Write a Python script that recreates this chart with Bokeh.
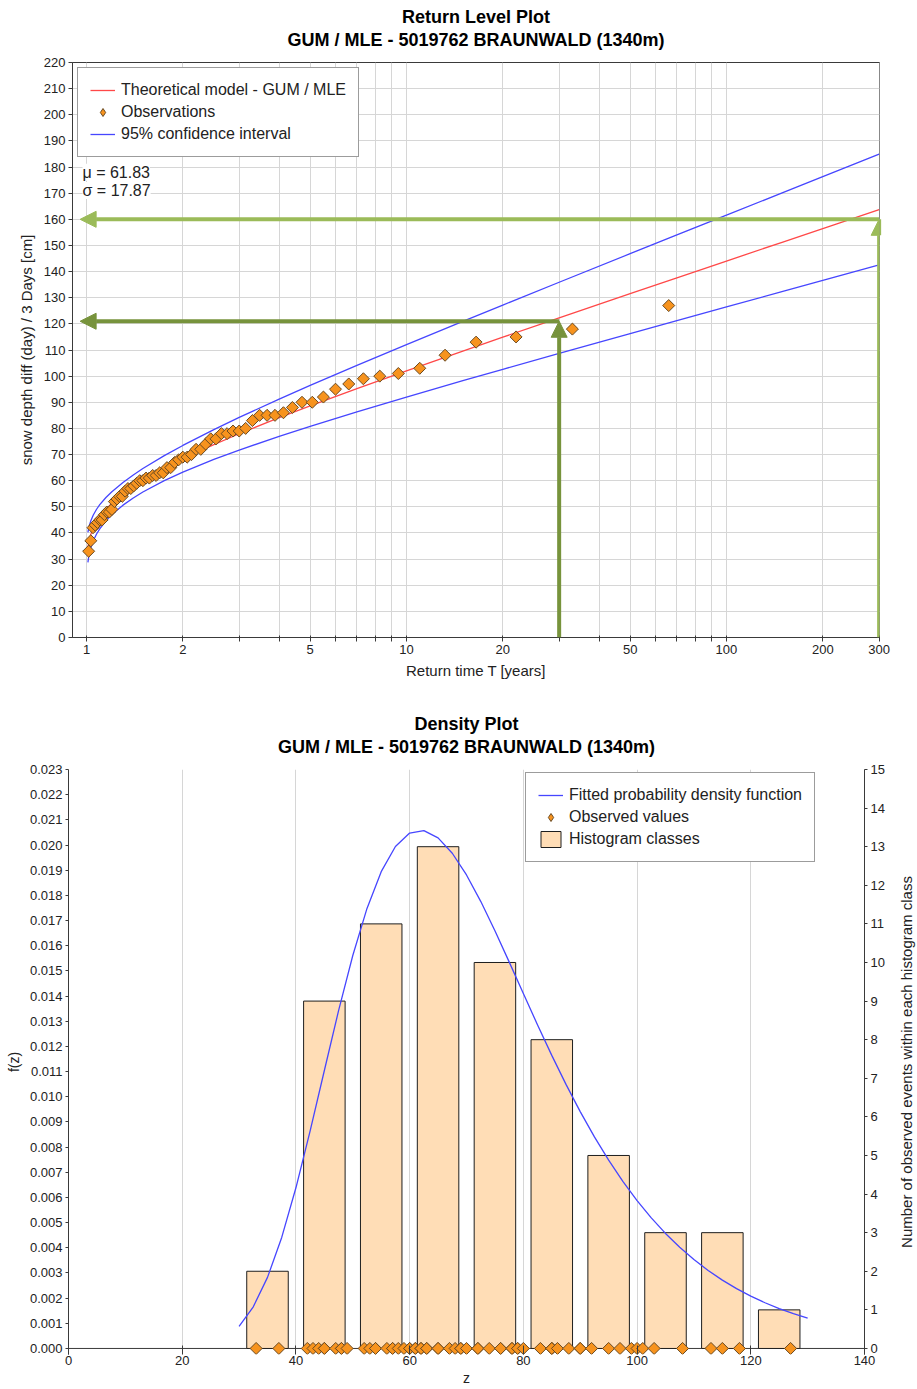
import math
from bokeh.plotting import figure
from bokeh.models import (Range1d, FixedTicker, LinearAxis, Legend, LegendItem, Label,
                          Arrow, NormalHead, Span, Title, CustomJSTickFormatter,
                          NumeralTickFormatter)
from bokeh.layouts import column, row
from bokeh.embed import file_html
from bokeh.resources import INLINE

FONT = "Liberation Sans"
NAN = float("nan")

# ---------------- data ----------------
title_top = "Return Level Plot"
title_bottom = "Density Plot"
subtitle = "GUM / MLE - 5019762 BRAUNWALD (1340m)"
mu_text = "\u03bc = 61.83"
sigma_text = "\u03c3 = 17.87"
right_axis_title = "Number of observed events within each histogram class"

# observed values (cm), 65 events
obs_values = [33, 37, 42, 43, 44, 45, 45, 47, 48, 48, 49, 52, 53, 54, 54, 56, 57, 57,
              58, 59, 60, 60, 61, 61, 62, 62, 63, 63, 65, 65, 67, 68, 69, 69, 70, 72,
              72, 74, 76, 76, 78, 78, 79, 79, 80, 83, 85, 85, 85, 86, 88, 90, 90, 92,
              95, 97, 99, 100, 101, 103, 108, 113, 115, 118, 127]

# theoretical model and 95% confidence band (read along return time T)
T_model = [1.01, 1.015, 1.02, 1.03, 1.05, 1.075, 1.1, 1.15, 1.2, 1.3, 1.4, 1.5, 1.75,
           2, 2.5, 3, 4, 5, 7, 10, 15, 20, 30, 50, 70, 100, 150, 200, 300]
model_level = [34.50, 36.12, 37.37, 39.26, 41.94, 44.33, 46.20, 49.12, 51.41, 54.99,
               57.80, 60.15, 64.79, 68.38, 73.83, 77.96, 84.09, 88.63, 95.24, 102.05,
               109.61, 114.91, 122.31, 131.56, 137.62, 144.03, 151.31, 156.47, 163.73]
ci_lower = [28.76, 30.58, 31.97, 34.07, 37.00, 39.59, 41.59, 44.67, 47.03, 50.64,
            53.40, 55.66, 60.01, 63.28, 68.12, 71.71, 76.96, 80.80, 86.34, 92.01,
            98.26, 102.62, 108.70, 116.28, 121.23, 126.47, 132.41, 136.62, 142.53]
ci_upper = [40.24, 41.66, 42.77, 44.45, 46.88, 49.07, 50.81, 53.57, 55.79, 59.34,
            62.20, 64.64, 69.57, 73.48, 79.54, 84.21, 91.22, 96.46, 104.14, 112.09,
            120.96, 127.20, 135.92, 146.84, 154.01, 161.59, 170.21, 176.32, 184.93]

# reading arrows (return period, level)
read_T = [30, 300]
read_level = [121, 160]

x_ticks_top = [1, 2, 3, 4, 5, 6, 7, 8, 9, 10, 20, 30, 40, 50, 60, 70, 80, 90, 100, 200, 300]
x_labels_top = [1, 2, 5, 10, 20, 50, 100, 200, 300]
y_ticks_top = list(range(0, 221, 10))

# density plot
z_pdf = [30, 32.5, 35, 37.5, 40, 42.5, 45, 47.5, 50, 52.5, 55, 57.5, 60, 62.5, 65, 67.5,
         70, 72.5, 75, 77.5, 80, 82.5, 85, 87.5, 90, 92.5, 95, 97.5, 100, 102.5, 105,
         107.5, 110, 112.5, 115, 117.5, 120, 122.5, 125, 127.5, 130]
pdf_values = [0.000877, 0.001656, 0.002823, 0.004411, 0.006383, 0.008644, 0.011043,
              0.013420, 0.015611, 0.017481, 0.018941, 0.019940, 0.020475, 0.020572,
              0.020283, 0.019673, 0.018810, 0.017763, 0.016595, 0.015358, 0.014099,
              0.012851, 0.011643, 0.010490, 0.009409, 0.008404, 0.007481, 0.006638,
              0.005874, 0.005186, 0.004570, 0.004020, 0.003531, 0.003097, 0.002714,
              0.002375, 0.002077, 0.001815, 0.001585, 0.001383, 0.001207]
class_centers = [35, 45, 55, 65, 75, 85, 95, 105, 115, 125]
class_counts = [2, 9, 11, 13, 10, 8, 5, 3, 3, 1]
x_ticks_bottom = [0, 20, 40, 60, 80, 100, 120, 140]
y_ticks_bottom = [round(i * 0.001, 3) for i in range(24)]
count_ticks = list(range(16))

# ---------------- style ----------------
RED = "#FF4848"
BLUE = "#4646FF"
ORANGE = "#F7931E"
ORANGE_LINE = "#6A4A22"
BAR_FILL = "#FFDDB6"
G_DARK = "#77933C"
G_LIGHT = "#9BBB59"
GRID = "#D6D6D6"
AXIS = "#3A3A3A"
TXT = "#222222"

n = len(obs_values)
sorted_obs = sorted(obs_values)
T_obs = [(n + 1) / (n + 1 - i) for i in range(1, n + 1)]


def style_axis(ax, tick_out=4, tick_in=0, standoff=3, label_standoff=5, label_size="15px"):
    ax.axis_line_color = AXIS
    ax.major_tick_line_color = AXIS
    ax.minor_tick_line_color = None
    ax.major_tick_out = tick_out
    ax.major_tick_in = tick_in
    ax.major_label_standoff = standoff
    ax.major_label_text_font = FONT
    ax.major_label_text_font_size = "13px"
    ax.major_label_text_color = TXT
    ax.axis_label_text_font = FONT
    ax.axis_label_text_font_size = label_size
    ax.axis_label_text_font_style = "normal"
    ax.axis_label_text_color = TXT
    ax.axis_label_standoff = label_standoff


def label_only_axis(text, standoff, size, bold=False):
    # an axis without line / ticks / tick labels, used only to carry a text line
    return LinearAxis(ticker=FixedTicker(ticks=[]), axis_label=text,
                      axis_line_color=None, major_tick_line_color=None,
                      minor_tick_line_color=None, major_tick_out=0, major_tick_in=0,
                      major_label_standoff=0, axis_label_standoff=standoff,
                      axis_label_text_font=FONT, axis_label_text_font_size=size,
                      axis_label_text_font_style="bold" if bold else "normal",
                      axis_label_text_color="black" if bold else TXT)


def add_titles(p, line1, line2):
    p.add_layout(label_only_axis(line2, 13, "18px", bold=True), "above")
    p.add_layout(Title(text=line1, align="center", standoff=0, text_font=FONT,
                       text_font_size="18px", text_font_style="bold",
                       text_color="black"), "above")


def no_frame_align(p):
    if "frame_align" in p.properties():
        p.frame_align = False


# ================= Return level plot =================
# frame: x 72..879, y 62..637 (page px)
p1 = figure(width=917, height=684, x_axis_type="log",
            x_range=Range1d(0.904, 300.8), y_range=Range1d(0, 220),
            output_backend="svg", toolbar_location=None, title=None,
            min_border_left=72, min_border_right=38, min_border_top=62, min_border_bottom=47)
no_frame_align(p1)
p1.outline_line_color = AXIS
xa1 = p1.below[0]
ya1 = p1.left[0]

xt = FixedTicker(ticks=x_ticks_top)
yt = FixedTicker(ticks=y_ticks_top)
xa1.ticker = xt
ya1.ticker = yt
p1.xgrid[0].ticker = xt
p1.ygrid[0].ticker = yt
xa1.formatter = CustomJSTickFormatter(
    args=dict(shown=x_labels_top),
    code="return shown.includes(tick) ? String(tick) : '';")
style_axis(xa1, tick_out=4, tick_in=2, standoff=3, label_standoff=5)
style_axis(ya1, tick_out=4, standoff=3, label_standoff=6)
xa1.axis_label = "Return time T [years]"
ya1.axis_label = "snow depth diff (day) / 3 Days [cm]"
for g in (p1.xgrid[0], p1.ygrid[0]):
    g.grid_line_color = GRID
    g.grid_line_width = 1
add_titles(p1, title_top, subtitle)

r_model = p1.line(T_model, model_level, line_color=RED, line_width=1.3)
r_up = p1.line(T_model, ci_upper, line_color=BLUE, line_width=1.3)
r_lo = p1.line(T_model, ci_lower, line_color=BLUE, line_width=1.3)
r_obs = p1.scatter(T_obs, sorted_obs, marker="square", angle=math.pi / 4, size=8.5,
                   fill_color=ORANGE, line_color=ORANGE_LINE, line_width=1)
# legend-only glyph (diamond shape for the legend entry, never drawn in the plot)
r_obs_leg = p1.scatter([NAN], [NAN], marker="diamond", size=12,
                       fill_color=ORANGE, line_color=ORANGE_LINE, line_width=1)

# reading arrows
for (tr, lv, col) in zip(read_T, read_level, [G_DARK, G_LIGHT]):
    p1.add_layout(Arrow(end=NormalHead(size=16, fill_color=col, line_color=col),
                        x_start=tr, y_start=0, x_end=tr, y_end=lv,
                        line_color=col, line_width=4))
    p1.add_layout(Arrow(end=NormalHead(size=16, fill_color=col, line_color=col),
                        x_start=tr, y_start=lv, x_end=0.955, y_end=lv,
                        line_color=col, line_width=4))

for txt, yy in ((mu_text, 178.0), (sigma_text, 171.0)):
    p1.add_layout(Label(x=0.9716, y=yy, text=txt, text_font=FONT, text_font_size="16px",
                        text_color=TXT, text_baseline="middle",
                        background_fill_color="white"))

leg1 = Legend(items=[LegendItem(label="Theoretical model - GUM / MLE", renderers=[r_model]),
                     LegendItem(label="Observations", renderers=[r_obs_leg]),
                     LegendItem(label="95% confidence interval", renderers=[r_up])],
              location="top_left", margin=5, padding=12, spacing=2,
              glyph_width=25, glyph_height=20, label_height=20, label_standoff=6,
              label_text_font=FONT, label_text_font_size="16px", label_text_color=TXT,
              border_line_color=AXIS, border_line_width=1,
              background_fill_color="white", background_fill_alpha=1)
p1.add_layout(leg1, "center")

# ================= Density plot =================
# frame: x 68..866, y 769..1354 (zero line at 1348)
y_pad = 0.00024
count_pad = y_pad * 15 / 0.023
p2 = figure(width=887, height=705,
            x_range=Range1d(0, 140), y_range=Range1d(-y_pad, 0.023),
            output_backend="svg", toolbar_location=None, title=None,
            min_border_left=68, min_border_right=21, min_border_top=85, min_border_bottom=35)
no_frame_align(p2)
p2.outline_line_color = None
p2.extra_y_ranges = {"count": Range1d(-count_pad, 15)}
xa2 = p2.below[0]
ya2 = p2.left[0]

xt2 = FixedTicker(ticks=x_ticks_bottom)
yt2 = FixedTicker(ticks=y_ticks_bottom)
xa2.ticker = xt2
p2.xgrid[0].ticker = xt2
ya2.ticker = yt2
ya2.formatter = NumeralTickFormatter(format="0.000")
p2.xgrid[0].grid_line_color = GRID
p2.ygrid[0].grid_line_color = None
style_axis(xa2, tick_out=0, tick_in=9, standoff=1, label_standoff=2, label_size="14px")
style_axis(ya2, tick_out=3, standoff=3, label_standoff=5, label_size="14px")
xa2.axis_line_color = None
xa2.axis_label = "z"
ya2.axis_label = "f(z)"
add_titles(p2, title_bottom, subtitle)

ax_r = LinearAxis(y_range_name="count", ticker=FixedTicker(ticks=count_ticks))
style_axis(ax_r, tick_out=3, standoff=3)
p2.add_layout(ax_r, "right")

p2.add_layout(Span(location=0, dimension="width", line_color=AXIS, line_width=1,
                   level="underlay"))

r_bar = p2.vbar(x=class_centers, top=class_counts, bottom=0, width=7.3, y_range_name="count",
                fill_color=BAR_FILL, line_color="#1E1E1E", line_width=1)
r_pdf = p2.line(z_pdf, pdf_values, line_color=BLUE, line_width=1.3)
r_obs2 = p2.scatter(sorted_obs, [0] * n, marker="square", angle=math.pi / 4, size=8.5,
                    fill_color=ORANGE, line_color=ORANGE_LINE, line_width=1)
r_obs2_leg = p2.scatter([NAN], [NAN], marker="diamond", size=12,
                        fill_color=ORANGE, line_color=ORANGE_LINE, line_width=1)

leg2 = Legend(items=[LegendItem(label="Fitted probability density function", renderers=[r_pdf]),
                     LegendItem(label="Observed values", renderers=[r_obs2_leg]),
                     LegendItem(label="Histogram classes", renderers=[r_bar])],
              location=(457, 492), padding=12, spacing=2,
              glyph_width=25, glyph_height=20, label_height=20, label_standoff=6,
              label_text_font=FONT, label_text_font_size="16px", label_text_color=TXT,
              border_line_color=AXIS, border_line_width=1,
              background_fill_color="white", background_fill_alpha=1)
p2.add_layout(leg2, "center")

# narrow strip on the right carrying the right-hand axis title (reads bottom to top)
p3 = figure(width=30, height=705, x_range=Range1d(0, 1), y_range=Range1d(0, 1),
            output_backend="svg", toolbar_location=None, title=None,
            min_border_left=27, min_border_right=0, min_border_top=85, min_border_bottom=35)
no_frame_align(p3)
p3.outline_line_color = None
p3.xaxis.visible = False
p3.yaxis.visible = False
p3.xgrid.grid_line_color = None
p3.ygrid.grid_line_color = None
p3.add_layout(label_only_axis(right_axis_title, 0, "15px"), "left")

layout = column(p1, row(p2, p3))
open("out.html", "w").write(file_html(layout, INLINE))
